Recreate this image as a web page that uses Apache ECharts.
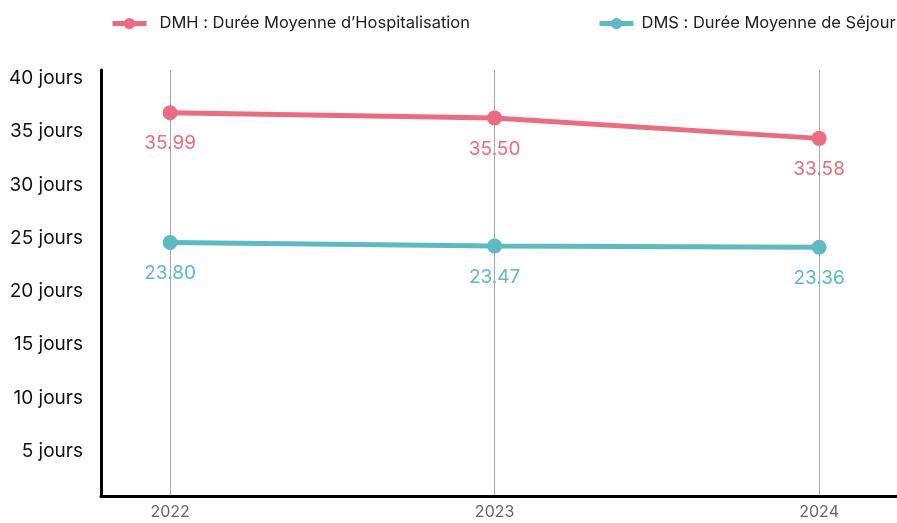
<!DOCTYPE html>
<html>
<head>
<meta charset="utf-8">
<script src="https://cdn.jsdelivr.net/npm/echarts@6/dist/echarts.min.js"></script>
<style>
  html, body { margin: 0; padding: 0; background: #fff; }
  #chart { width: 897px; height: 523px; }
</style>
</head>
<body>
<div id="chart"></div>
<script>
// années et valeurs
var years = [2022, 2023, 2024];
var dmhValues = [35.99, 35.50, 33.58];
var dmsValues = [23.80, 23.47, 23.36];
var yTicks = [5, 10, 15, 20, 25, 30, 35, 40];
var seriesNames = ['DMH : Durée Moyenne d’Hospitalisation', 'DMS : Durée Moyenne de Séjour'];

var pink = '#ee6b7f';
var teal = '#5bbbc3';
var font = 'Inter';

function pairs(values) {
  return years.map(function (y, i) { return [y, values[i]]; });
}

function lineSerie(name, values, color) {
  return {
    name: name,
    type: 'line',
    data: pairs(values),
    symbol: 'circle',
    symbolSize: 15,
    lineStyle: { width: 5, color: color },
    itemStyle: { color: color },
    label: {
      show: true,
      position: 'bottom',
      distance: 14,
      color: color,
      fontFamily: font,
      fontSize: 19,
      formatter: function (p) { return p.value[1].toFixed(2); }
    }
  };
}

// une légende par série, placées comme sur l'original
function legendAt(name, left, gap) {
  return {
    data: [name],
    top: 15,
    left: left,
    padding: 0,
    itemWidth: 34,
    itemHeight: 14,
    lineStyle: { width: 5 },
    textStyle: { fontFamily: font, fontSize: 16.5, color: '#222', padding: [0, 0, 0, gap] }
  };
}

var chart = echarts.init(document.getElementById('chart'));
chart.setOption({
  backgroundColor: '#ffffff',
  animation: false,
  legend: [legendAt(seriesNames[0], 110, 8), legendAt(seriesNames[1], 597, 3)],
  grid: { left: 101, right: 0, top: 70, bottom: 27 },
  xAxis: {
    type: 'value',
    min: 2021.787,
    max: 2024.24,
    axisLine: { show: true, lineStyle: { color: '#000', width: 3 } },
    axisTick: { show: false, customValues: years },
    axisLabel: {
      customValues: years,
      color: '#666',
      fontFamily: font,
      fontSize: 16,
      margin: 8,
      formatter: function (v) { return String(v); }
    },
    splitLine: { show: true, lineStyle: { color: '#aaa', width: 1 } }
  },
  yAxis: {
    type: 'value',
    min: 0,
    max: 40,
    interval: 5,
    axisLine: { show: true, lineStyle: { color: '#000', width: 3 } },
    axisTick: { show: false },
    splitLine: { show: false },
    axisLabel: {
      color: '#111',
      fontFamily: font,
      fontSize: 19,
      margin: 18,
      verticalAlign: 'top',
      lineHeight: 17,
      formatter: function (v) { return yTicks.indexOf(v) >= 0 ? v + ' jours' : ''; }
    }
  },
  series: [
    lineSerie(seriesNames[0], dmhValues, pink),
    lineSerie(seriesNames[1], dmsValues, teal)
  ]
});
</script>
</body>
</html>
